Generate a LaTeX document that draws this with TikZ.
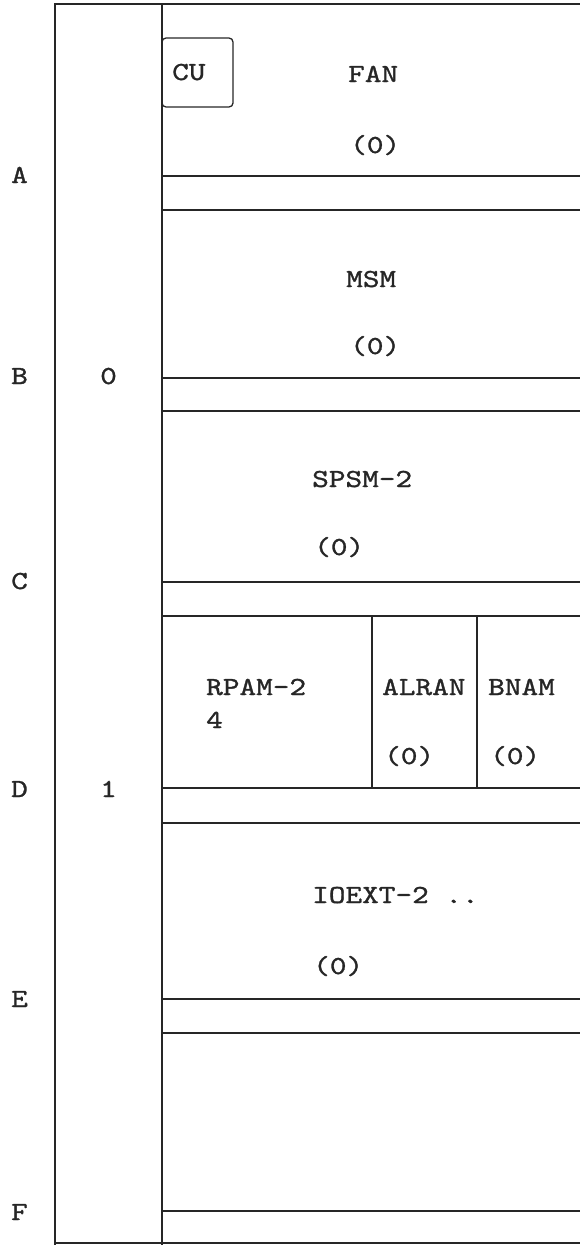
\documentclass[tikz,border=0pt]{standalone}
\usepackage{fontspec}
\newfontfamily\tw[FakeStretch=1.22,FakeBold=1.2]{lmmono10-regular.otf}
\begin{document}
\begin{tikzpicture}[x=1pt,y=-1pt,
  ln/.style={line width=1.3pt,black!85},
  lbl/.style={anchor=base west,inner sep=0pt,font=\tw\fontsize{26}{30}\selectfont,text=black!85}]
\useasboundingbox (0,0) rectangle (580,1245);
% frame
\draw[ln] (580,4) -- (55,4) -- (55,1245);
\draw[ln] (55,1243) -- (580,1243);
\draw[ln] (162,4) -- (162,1245);
% bands
\foreach \yy in {176,210,378,411,582,616,788,823,999,1033,1211}
  \draw[ln] (162,\yy) -- (580,\yy);
\draw[ln] (372,616) -- (372,788);
\draw[ln] (477,616) -- (477,788);
% CU box
\draw[ln,rounded corners=4pt] (162,38) rectangle (233,107);
% texts
\node[lbl] (cu) at (172,80) {CU};
\node[lbl] (fan) at (348,82) {FAN};
\node[lbl] (fan0) at (350,153) {(0)};
\node[lbl] (msm) at (346,287) {MSM};
\node[lbl] (msm0) at (350,354) {(0)};
\node[lbl] (spsm) at (312,487) {SPSM-2};
\node[lbl] (spsm0) at (314,555) {(0)};
\node[lbl] (rpam) at (206,695) {RPAM-2};
\node[lbl] (rpam4) at (206,728) {4};
\node[lbl] (alran) at (382,695) {ALRAN};
\node[lbl] (alran0) at (384,764) {(0)};
\node[lbl] (bnam) at (488,695) {BNAM};
\node[lbl] (bnam0) at (490,764) {(0)};
\node[lbl] (ioext) at (312,903) {IOEXT-2 ..};
\node[lbl] (ioext0) at (313,974) {(0)};
% row labels
\node[lbl] (la) at (11,183) {A};
\node[lbl] (lb) at (11,384) {B};
\node[lbl] (lc) at (11,589) {C};
\node[lbl] (ld) at (11,797) {D};
\node[lbl] (le) at (11,1007) {E};
\node[lbl] (lf) at (11,1220) {F};
\node[lbl] (n0) at (100,384) {0};
\node[lbl] (n1) at (100,797) {1};
\end{tikzpicture}
\end{document}
